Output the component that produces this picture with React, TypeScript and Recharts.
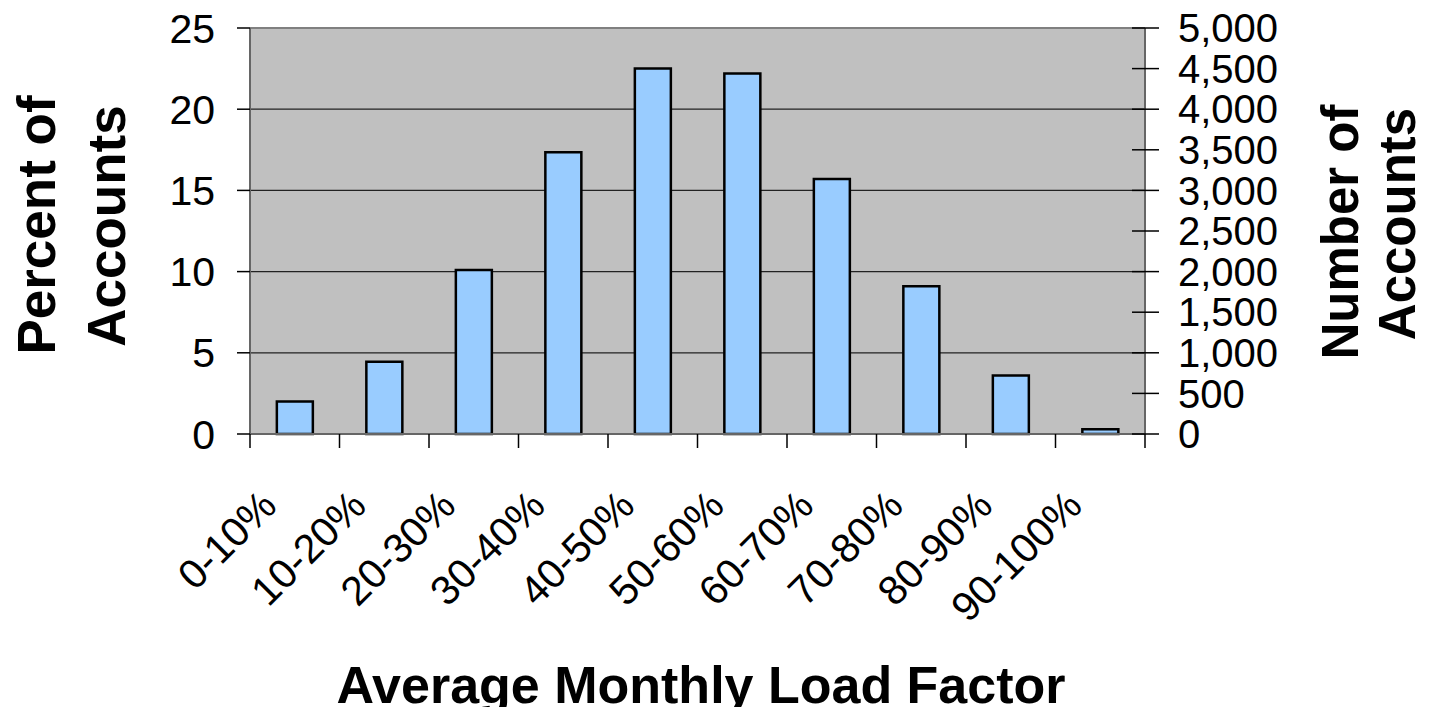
import { Bar, CartesianGrid, ComposedChart, Line, ReferenceLine, XAxis, YAxis } from "recharts";

const categories = [
  "0-10%",
  "10-20%",
  "20-30%",
  "30-40%",
  "40-50%",
  "50-60%",
  "60-70%",
  "70-80%",
  "80-90%",
  "90-100%",
];
const percentOfAccounts = [2.0, 4.45, 10.1, 17.35, 22.5, 22.2, 15.7, 9.1, 3.6, 0.3];
const percentTicks = [0, 5, 10, 15, 20, 25];
const countTicks = [0, 500, 1000, 1500, 2000, 2500, 3000, 3500, 4000, 4500, 5000];

const data = categories.map((name, i) => ({ name, pct: percentOfAccounts[i] }));

const FONT = "'Liberation Sans', Arial, sans-serif";
const W = 1438;
const H = 715;

function XTick(props: any) {
  const { x, y, payload, index } = props;
  const half = payload && payload.offset ? payload.offset : 44.75;
  const top = y - 16;
  return (
    <g>
      <line x1={x - half} x2={x - half} y1={top} y2={top + 14} stroke="#000" strokeWidth={1.5} />
      {index === categories.length - 1 && (
        <line x1={x + half} x2={x + half} y1={top} y2={top + 14} stroke="#000" strokeWidth={1.5} />
      )}
      <text
        transform={`translate(${x - 16},${y + 58}) rotate(-45)`}
        textAnchor="end"
        fontSize={41}
        fontFamily={FONT}
        fill="#000"
      >
        {payload.value}
      </text>
    </g>
  );
}

function RightTick(props: any) {
  const { x, y, payload } = props;
  return (
    <g>
      <line x1={x - 46} x2={x - 19} y1={y} y2={y} stroke="#000" strokeWidth={1.5} />
      <text x={x} y={y} dy="0.355em" fontSize={40} fontFamily={FONT} fill="#000">
        {Number(payload.value).toLocaleString("en-US")}
      </text>
    </g>
  );
}

export default function App() {
  // negative margin cancels the body margin so chart pixels line up with the page
  return (
    <div style={{ position: "relative", width: W, height: H, margin: -8 }}>
      <ComposedChart
        width={W}
        height={H}
        data={data}
        margin={{ top: 28, right: 0, bottom: 0, left: 0 }}
        barCategoryGap="30%"
      >
        <CartesianGrid
          vertical={false}
          stroke="#222"
          strokeWidth={1.2}
          fill="#C0C0C0"
          fillOpacity={1}
          yAxisId="left"
        />
        <XAxis
          dataKey="name"
          height={281}
          tickLine={false}
          tickSize={14}
          tickMargin={2}
          axisLine={{ stroke: "#666", strokeWidth: 2 }}
          tick={<XTick />}
          interval={0}
        />
        <YAxis
          yAxisId="left"
          width={250}
          domain={[0, 25]}
          ticks={percentTicks}
          tickSize={13}
          tickMargin={22}
          tickLine={{ stroke: "#000", strokeWidth: 1.5 }}
          axisLine={{ stroke: "#666", strokeWidth: 2 }}
          tick={{ fontSize: 41, fontFamily: FONT, fill: "#000" }}
        />
        <YAxis
          yAxisId="right"
          orientation="right"
          width={293}
          domain={[0, 5000]}
          ticks={countTicks}
          interval={0}
          tickSize={14}
          tickMargin={19}
          tickLine={false}
          axisLine={{ stroke: "#666", strokeWidth: 2 }}
          tick={<RightTick />}
        />
        <ReferenceLine yAxisId="left" y={25} stroke="#808080" strokeWidth={2} />
        <Bar
          yAxisId="left"
          dataKey="pct"
          fill="#99CCFF"
          stroke="#000"
          strokeWidth={2.5}
          isAnimationActive={false}
        />
        {/* carries the right-hand count axis; draws nothing */}
        <Line
          yAxisId="right"
          dataKey="pct"
          stroke="none"
          dot={false}
          activeDot={false}
          legendType="none"
          isAnimationActive={false}
        />
      </ComposedChart>
      <svg
        width={W}
        height={H}
        style={{ position: "absolute", left: 0, top: 0, pointerEvents: "none", overflow: "visible" }}
        fontFamily={FONT}
        fontWeight="bold"
        fill="#000"
      >
        <text x={701} y={703} textAnchor="middle" fontSize={52}>
          Average Monthly Load Factor
        </text>
        <text transform="translate(55,225) rotate(-90)" textAnchor="middle" fontSize={53}>
          Percent of
        </text>
        <text transform="translate(125,226) rotate(-90)" textAnchor="middle" fontSize={53}>
          Accounts
        </text>
        <text transform="translate(1358,232) rotate(-90)" textAnchor="middle" fontSize={51}>
          Number of
        </text>
        <text transform="translate(1415,224) rotate(-90)" textAnchor="middle" fontSize={51}>
          Accounts
        </text>
      </svg>
    </div>
  );
}
